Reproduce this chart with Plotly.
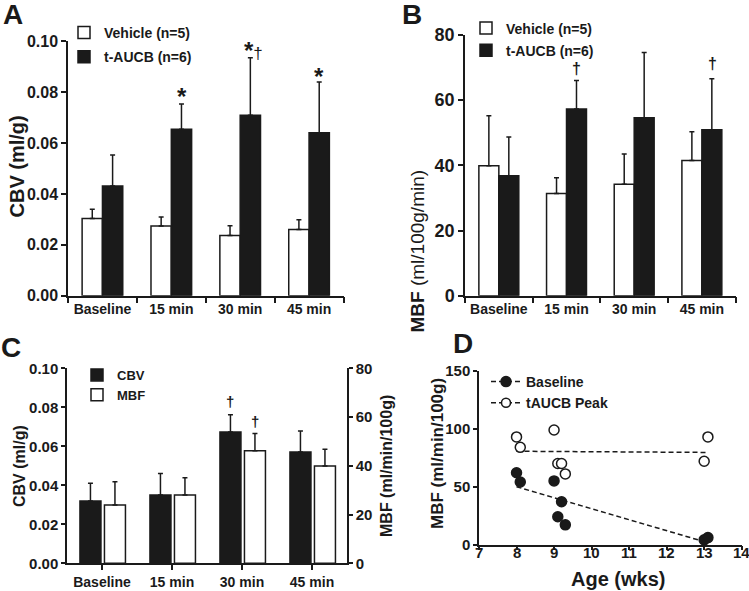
import numpy as np
import plotly.graph_objects as go

# ---------------- data ----------------
times = ["Baseline", "15 min", "30 min", "45 min"]

# Panel A: CBV (ml/g)
cbv_vehicle = [0.0303, 0.0274, 0.0237, 0.0260]
cbv_vehicle_err = [0.0037, 0.0035, 0.0038, 0.0039]
cbv_taucb = [0.0431, 0.0654, 0.0709, 0.0641]
cbv_taucb_err = [0.0122, 0.0100, 0.0226, 0.0199]

# Panel B: MBF (ml/100g/min)
mbf_vehicle = [39.9, 31.4, 34.2, 41.5]
mbf_vehicle_err = [15.3, 4.8, 9.3, 8.8]
mbf_taucb = [36.8, 57.3, 54.6, 50.9]
mbf_taucb_err = [11.9, 8.7, 20.0, 15.7]

# Panel C: CBV (left axis) and MBF (right axis)
c_cbv = [0.0320, 0.0350, 0.0673, 0.0571]
c_cbv_err = [0.0090, 0.0110, 0.0089, 0.0107]
c_mbf = [23.9, 28.0, 46.2, 39.9]
c_mbf_err = [9.6, 7.1, 7.0, 6.9]

# Panel D: MBF vs age
age_base = [8.0, 8.1, 9.0, 9.1, 9.2, 9.3, 13.0, 13.1]
mbf_base = [62, 54, 55, 24, 37, 17, 4, 6]
age_peak = [8.0, 8.1, 9.0, 9.1, 9.2, 9.3, 13.0, 13.1]
mbf_peak = [93, 84, 99, 70, 70, 61, 72, 93]
age_ticks = [7, 8, 9, 10, 11, 12, 13, 14]

# ---------------- style ----------------
FONT = "Liberation Sans, Arial, Helvetica, sans-serif"
INK = "#1a1a1a"
W, H = 749, 591


def fx(p):
    return p / W


def fy(p):
    return 1 - p / H


def errbar(arr):
    return dict(type="data", array=arr, arrayminus=[0] * len(arr), symmetric=False,
                color=INK, thickness=1.5, width=2.5)


white_bar = dict(color="white", line=dict(color=INK, width=1.5))
black_bar = dict(color=INK, line=dict(color=INK, width=1.5))

fig = go.Figure()

# Panel A
fig.add_trace(go.Bar(x=times, y=cbv_vehicle, name="Vehicle (n=5)", marker=white_bar,
                     error_y=errbar(cbv_vehicle_err), xaxis="x", yaxis="y",
                     legend="legend", legendgroup="a1"))
fig.add_trace(go.Bar(x=times, y=cbv_taucb, name="t-AUCB (n=6)", marker=black_bar,
                     error_y=errbar(cbv_taucb_err), xaxis="x", yaxis="y",
                     legend="legend", legendgroup="a2"))
# Panel B
fig.add_trace(go.Bar(x=times, y=mbf_vehicle, name="Vehicle (n=5)", marker=white_bar,
                     error_y=errbar(mbf_vehicle_err), xaxis="x2", yaxis="y2",
                     legend="legend2", legendgroup="b1"))
fig.add_trace(go.Bar(x=times, y=mbf_taucb, name="t-AUCB (n=6)", marker=black_bar,
                     error_y=errbar(mbf_taucb_err), xaxis="x2", yaxis="y2",
                     legend="legend2", legendgroup="b2"))
# Panel C
fig.add_trace(go.Bar(x=times, y=c_cbv, name="CBV", marker=black_bar,
                     error_y=errbar(c_cbv_err), xaxis="x3", yaxis="y3",
                     offset=-0.315, width=0.30, legend="legend3"))
fig.add_trace(go.Bar(x=times, y=c_mbf, name="MBF", marker=white_bar,
                     error_y=errbar(c_mbf_err), xaxis="x3", yaxis="y4",
                     offset=0.035, width=0.30, legend="legend3"))

# Panel D
ab = np.array(age_base, float)
mb = np.array(mbf_base, float)
ap = np.array(age_peak, float)
mp = np.array(mbf_peak, float)
kb = np.polyfit(ab, mb, 1)
kp = np.polyfit(ap, mp, 1)
xb = np.array([ab.min(), ab.max()])
xp = np.array([ap.min(), ap.max()])
DASH = "5px,3px"
fig.add_trace(go.Scatter(x=xb, y=np.polyval(kb, xb), mode="lines",
                         line=dict(color=INK, width=1.5, dash=DASH),
                         showlegend=False, xaxis="x4", yaxis="y5", hoverinfo="skip"))
fig.add_trace(go.Scatter(x=xp, y=np.polyval(kp, xp), mode="lines",
                         line=dict(color=INK, width=1.5, dash=DASH),
                         showlegend=False, xaxis="x4", yaxis="y5", hoverinfo="skip"))
fig.add_trace(go.Scatter(x=age_base, y=mbf_base, mode="markers",
                         marker=dict(symbol="circle", size=10, color=INK,
                                     line=dict(color=INK, width=1.5)),
                         showlegend=False, xaxis="x4", yaxis="y5", cliponaxis=False))
fig.add_trace(go.Scatter(x=age_peak, y=mbf_peak, mode="markers",
                         marker=dict(symbol="circle", size=10, color="white",
                                     line=dict(color=INK, width=1.5)),
                         showlegend=False, xaxis="x4", yaxis="y5", cliponaxis=False))
# legend entries for panel D
fig.add_trace(go.Scatter(x=[None], y=[None], mode="lines+markers", name="Baseline",
                         line=dict(color=INK, width=1.5, dash=DASH),
                         marker=dict(size=10, color=INK, line=dict(color=INK, width=1.5)),
                         xaxis="x4", yaxis="y5", legend="legend4"))
fig.add_trace(go.Scatter(x=[None], y=[None], mode="lines+markers", name="tAUCB Peak",
                         line=dict(color=INK, width=1.5, dash=DASH),
                         marker=dict(size=9, color="white", line=dict(color=INK, width=1.5)),
                         xaxis="x4", yaxis="y5", legend="legend4"))


def axis(**kw):
    base = dict(showline=True, linecolor=INK, linewidth=1.5, ticks="outside",
                tickcolor=INK, tickwidth=1.5, ticklen=5, showgrid=False, zeroline=False,
                automargin=False,
                tickfont=dict(family=FONT, size=14, color=INK, weight="bold"),
                fixedrange=True)
    base.update(kw)
    return base


def tf(size):
    return dict(family=FONT, size=size, color=INK, weight="bold")


legend_common = dict(bgcolor="rgba(0,0,0,0)", borderwidth=0, xanchor="left", yanchor="top")

fig.update_layout(
    template="none",
    width=W, height=H, margin=dict(l=0, r=0, t=0, b=0, autoexpand=False),
    paper_bgcolor="white", plot_bgcolor="white",
    barmode="group", bargap=0.41, bargroupgap=0.0,
    font=dict(family=FONT, color=INK),
    # Panel A
    xaxis=axis(domain=[fx(68), fx(343.5)], anchor="y", type="category",
               tickson="boundaries", ticklen=6, range=[-0.5, 3.5]),
    yaxis=axis(domain=[fy(295.7), fy(41.3)], anchor="x", range=[0, 0.1],
               tickvals=[0, 0.02, 0.04, 0.06, 0.08, 0.10], tickformat=".2f",
               tickfont=tf(16)),
    # Panel B
    xaxis2=axis(domain=[fx(465), fx(735.7)], anchor="y2", type="category",
                tickson="boundaries", ticklen=6, range=[-0.5, 3.5]),
    yaxis2=axis(domain=[fy(295.7), fy(35)], anchor="x2", range=[0, 80],
                tickvals=[0, 20, 40, 60, 80], tickfont=tf(18)),
    # Panel C
    xaxis3=axis(domain=[fx(67), fx(347)], anchor="y3", type="category",
                range=[-0.5, 3.5], tickfont=tf(14)),
    yaxis3=axis(domain=[fy(563.3), fy(368.3)], anchor="x3", range=[0, 0.1],
                tickvals=[0, 0.02, 0.04, 0.06, 0.08, 0.10], tickformat=".2f",
                ticklen=4, tickfont=tf(15)),
    yaxis4=axis(domain=[fy(563.3), fy(368.3)], anchor="x3", overlaying="y3",
                side="right", range=[0, 80], tickvals=[0, 20, 40, 60, 80],
                ticklen=4, tickfont=tf(15)),
    # Panel D
    xaxis4=axis(domain=[fx(479), fx(741.7)], anchor="y5", range=[7, 14],
                tickvals=age_ticks, ticklen=4, showticklabels=False),
    yaxis5=axis(domain=[fy(544.5), fy(371)], anchor="x4", range=[0, 150],
                tickvals=[0, 50, 100, 150], ticklen=4, tickfont=tf(15)),
    legend=dict(**legend_common, x=fx(64), y=fy(17), font=tf(14), tracegroupgap=3),
    legend2=dict(**legend_common, x=fx(466), y=fy(12.5), font=tf(14), tracegroupgap=1),
    legend3=dict(**legend_common, x=fx(77), y=fy(360), font=tf(13)),
    legend4=dict(**legend_common, x=fx(486), y=fy(366), font=tf(14)),
    showlegend=True,
)

ann = []


def label(text, x, y, size, angle=0):
    ann.append(dict(text=text, x=fx(x), y=fy(y), xref="paper", yref="paper",
                    showarrow=False, textangle=angle, xanchor="center", yanchor="middle",
                    font=dict(family=FONT, size=size, color=INK, weight="bold")))


# panel letters
label("A", 13, 15, 28)
label("B", 412, 15, 28)
label("C", 11, 347, 28)
label("D", 463, 343, 28)
# axis titles
label("CBV (ml/g)", 16.5, 167, 20, -90)
ann.append(dict(text="<b>MBF</b> (ml/100g/min)", x=fx(417), y=fy(168), xref="paper",
                yref="paper", showarrow=False, textangle=-90,
                font=dict(family=FONT, size=19, color=INK, weight="normal")))
label("CBV (ml/g)", 19, 466, 16, -90)
label("MBF (ml/min/100g)", 386, 466, 16, -90)
label("MBF (ml/min/100g)", 437, 454, 17, -90)
label("Age (wks)", 618, 579, 20)

# panel D x tick labels (placed close to the axis like the reference)
for t in age_ticks:
    ann.append(dict(text=str(t), x=t, y=fy(552.5), xref="x4", yref="paper",
                    showarrow=False, xanchor="center", yanchor="middle",
                    font=dict(family=FONT, size=15, color=INK, weight="bold")))


def mark(text, x, y, xref, yref, size, yshift=0, xshift=0):
    ann.append(dict(text=text, x=x, y=y, xref=xref, yref=yref, showarrow=False,
                    xanchor="center", yanchor="middle", yshift=yshift, xshift=xshift,
                    font=dict(family=FONT, size=size, color=INK, weight="bold")))


# significance marks
mark("*", 1.15, 0.0808, "x", "y", 24, yshift=-6)
mark("*<span style='font-size:17px;font-weight:normal'>†</span>", 2.15, 0.0988,
     "x", "y", 24, yshift=-6, xshift=3)
mark("*", 3.15, 0.0886, "x", "y", 24, yshift=-6)
mark("†", 1.15, 69.6, "x2", "y2", 16)
mark("†", 3.15, 71.3, "x2", "y2", 16)
mark("†", 2 - 0.165, 0.0831, "x3", "y3", 15)
mark("†", 2 + 0.185, 58, "x3", "y4", 15)

fig.update_layout(annotations=ann)

fig.write_html("out.html", config={"displayModeBar": False},
               post_script="document.body.style.margin='0';document.body.style.padding='0';")
